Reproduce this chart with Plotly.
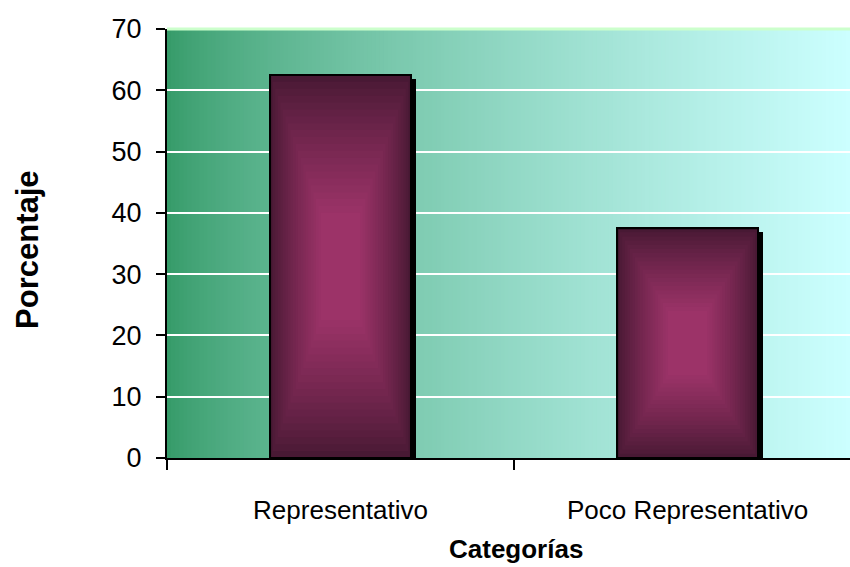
import plotly.graph_objects as go

# Data
categories = ["Representativo", "Poco Representativo"]
percentages = [62.5, 37.5]
y_ticks = [0, 10, 20, 30, 40, 50, 60, 70]

# Styling
BAR_WIDTH = 0.406
SHADOW_DX = 0.0144   # shadow offset along x (category units)
SHADOW_DY = 0.65     # shadow drop along y (percentage units)
EDGE_RGB = (72, 25, 52)
CENTER_RGB = (156, 51, 104)
BG_LEFT = (51, 153, 102)
BG_RIGHT = (204, 255, 255)
SANS = "Liberation Sans, Arial, sans-serif"


def mix(c0, c1, t):
    return "rgb(%d,%d,%d)" % tuple(round(a + (b - a) * t) for a, b in zip(c0, c1))


fig = go.Figure()

# drop shadow behind each bar
fig.add_trace(go.Bar(
    x=categories,
    y=[v - SHADOW_DY for v in percentages],
    width=BAR_WIDTH,
    offset=-BAR_WIDTH / 2 + SHADOW_DX,
    marker=dict(color="black", line=dict(width=0)),
    hoverinfo="skip",
    showlegend=False,
))

# main bars
fig.add_trace(go.Bar(
    x=categories,
    y=percentages,
    width=BAR_WIDTH,
    offset=-BAR_WIDTH / 2,
    marker=dict(color=mix(EDGE_RGB, EDGE_RGB, 0), line=dict(color="black", width=2)),
    showlegend=False,
))

shapes = []

# horizontal gradient across the plotting area
n_bg = 170
for i in range(n_bg):
    t = (i + 0.5) / n_bg
    shapes.append(dict(
        type="rect", xref="x domain", yref="y domain", layer="below",
        x0=i / n_bg, x1=(i + 1) / n_bg + 0.002, y0=0, y1=1,
        fillcolor=mix(BG_LEFT, BG_RIGHT, t ** 0.7), line=dict(width=0),
    ))

# light rim along the top of the plotting area
shapes.append(dict(
    type="line", xref="x domain", yref="y domain", layer="below",
    x0=0, x1=1, y0=1, y1=1, line=dict(color="#ccffcc", width=3),
))

# rectangular "from centre" shading inside each bar
n_steps = 20
plateau = 0.28   # fraction of the bar size that keeps the full centre colour
for idx, v in enumerate(percentages):
    half_w = BAR_WIDTH / 2
    half_h = v / 2
    cy = v / 2
    for k in range(n_steps + 1):
        f = 1 - (1 - plateau) * k / n_steps
        shapes.append(dict(
            type="rect", xref="x", yref="y", layer="above",
            x0=idx - half_w * f, x1=idx + half_w * f,
            y0=cy - half_h * f, y1=cy + half_h * f,
            fillcolor=mix(EDGE_RGB, CENTER_RGB, (k / n_steps) ** 0.85),
            line=dict(width=0),
        ))
    # bar outline on top of the shading
    shapes.append(dict(
        type="rect", xref="x", yref="y", layer="above",
        x0=idx - half_w, x1=idx + half_w, y0=0, y1=v,
        line=dict(color="black", width=2), fillcolor="rgba(0,0,0,0)",
    ))

fig.update_layout(
    width=850, height=567,
    margin=dict(l=167, r=0, t=29, b=109),
    paper_bgcolor="white",
    plot_bgcolor="rgba(0,0,0,0)",
    barmode="overlay",
    bargap=0,
    shapes=shapes,
    showlegend=False,
    xaxis=dict(
        type="category",
        categoryorder="array", categoryarray=categories,
        range=[-0.5, 1.468],
        tickson="boundaries",
        ticks="outside", ticklen=10, tickwidth=2, tickcolor="black",
        showline=True, linecolor="black", linewidth=2,
        showgrid=False, zeroline=False,
        tickfont=dict(family=SANS, size=26, color="black"),
        ticklabelstandoff=28,
    ),
    yaxis=dict(
        range=[0, 70],
        tickvals=y_ticks,
        ticks="outside", ticklen=9, tickwidth=2, tickcolor="black",
        showline=True, linecolor="black", linewidth=2,
        showgrid=True, gridcolor="white", gridwidth=2,
        zeroline=False,
        tickfont=dict(family=SANS, size=27, color="black"),
        ticklabelstandoff=9,
    ),
    annotations=[
        dict(text="<b>Categorías</b>", xref="paper", yref="paper",
             x=0.511, y=-0.212, xanchor="center", yanchor="middle",
             showarrow=False, font=dict(family=SANS, size=26, color="black")),
        dict(text="<b>Porcentaje</b>", xref="paper", yref="paper",
             x=-0.2035, y=0.485, xanchor="center", yanchor="middle",
             textangle=-90, showarrow=False,
             font=dict(family=SANS, size=31, color="black")),
    ],
)

fig.write_html("out.html")
